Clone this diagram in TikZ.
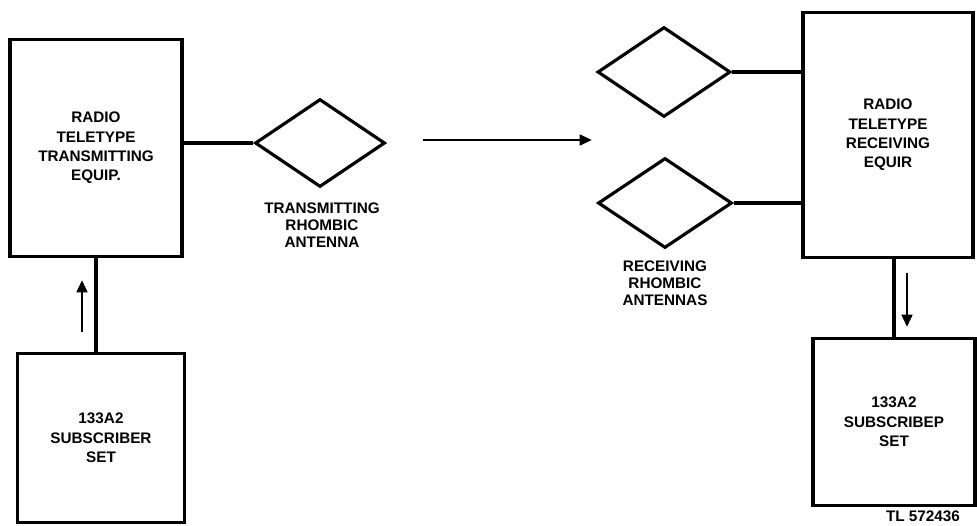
\documentclass[tikz,border=0pt]{standalone}
\usepackage{fontspec}
\setmainfont{Liberation Sans}
\usetikzlibrary{positioning,arrows.meta,shapes.geometric}

\begin{document}
\begin{tikzpicture}[
    x=0.02cm, y=-0.02cm,
    block/.style={draw, line width=1.8pt, inner sep=0pt, align=center},
    rhombus/.style={draw, diamond, line width=1.8pt, inner sep=0pt, aspect=1.5},
    link/.style={line width=1.8pt},
    flow/.style={line width=1.6pt, -{Triangle[length=7pt,width=6pt]}},
    every node/.style={font=\fontsize{8.7}{11}\selectfont\bfseries}
]
    \useasboundingbox (0,0) rectangle (977,525);

    % Transmitting side
    \node[block, minimum width=3.44cm, minimum height=4.34cm] (txequip) at (96,148) {RADIO\\TELETYPE\\TRANSMITTING\\EQUIP.};
    \node[block, minimum width=3.34cm, minimum height=3.38cm] (txsub) at (101,438) {133A2\\SUBSCRIBER\\SET};
    \node[rhombus, minimum width=2.6cm, minimum height=1.76cm] (txant) at (320,143) {};
    \node[align=center, font=\fontsize{8.7}{9.7}\selectfont\bfseries] (txlabel) at (322,225) {TRANSMITTING\\RHOMBIC\\ANTENNA};

    \draw[link] (txequip.east |- txant.west) -- (txant.west);
    \draw[link] (txequip.south) -- (txequip.south |- txsub.north);
    \coordinate (upfrom) at (82,332);
    \coordinate (upto) at (82,280);
    \draw[flow] (upfrom) -- (upto);

    % Radio path
    \coordinate (pathfrom) at (423,140);
    \coordinate (pathto) at (592,140);
    \draw[flow] (pathfrom) -- (pathto);

    % Receiving side
    \node[rhombus, minimum width=2.66cm, minimum height=1.8cm] (rxant1) at (664,72) {};
    \node[rhombus, minimum width=2.68cm, minimum height=1.8cm] (rxant2) at (665,203) {};
    \node[align=center, font=\fontsize{8.7}{9.7}\selectfont\bfseries] (rxlabel) at (665,283) {RECEIVING\\RHOMBIC\\ANTENNAS};
    \node[block, minimum width=3.4cm, minimum height=4.9cm] (rxequip) at (888,135) {RADIO\\TELETYPE\\RECEIVING\\EQUIR};
    \node[block, minimum width=3.24cm, minimum height=3.34cm] (rxsub) at (894,422) {133A2\\SUBSCRIBEP\\SET};
    \node (tag) at (923,516) {TL 572436};

    \draw[link] (rxant1.east) -- (rxequip.west |- rxant1.east);
    \draw[link] (rxant2.east) -- (rxequip.west |- rxant2.east);
    \draw[link] (rxsub.north) -- (rxsub.north |- rxequip.south);
    \coordinate (downfrom) at (907,273);
    \coordinate (downto) at (907,327);
    \draw[flow] (downfrom) -- (downto);
\end{tikzpicture}
\end{document}
